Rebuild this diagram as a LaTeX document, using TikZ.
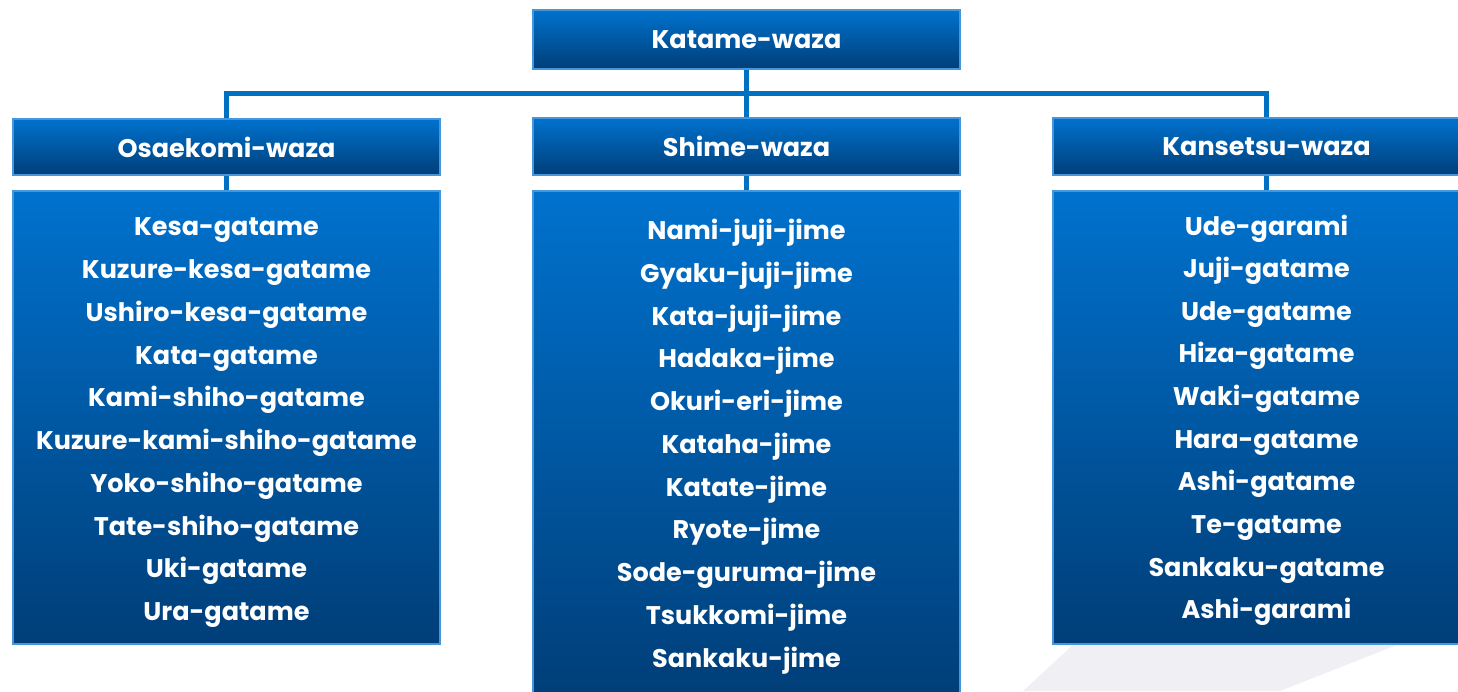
\documentclass[tikz,border=0pt]{standalone}
\usepackage{fontspec}
\setmainfont{Poppins}
\definecolor{boxtop}{RGB}{0,114,206}
\definecolor{boxbot}{RGB}{0,62,120}
\definecolor{boxedge}{RGB}{70,150,220}
\definecolor{connblue}{RGB}{0,112,192}
\definecolor{shadowgray}{RGB}{240,240,244}
\tikzset{
  blbox/.style={draw=boxedge, line width=1.5pt, top color=boxtop, bottom color=boxbot,
    minimum width=427pt, inner sep=0pt, text=white,
    font=\bfseries\fontsize{25.5}{30}\selectfont},
  item/.style={anchor=base, inner sep=0pt, text=white,
    font=\bfseries\fontsize{25.5}{30}\selectfont},
  conn/.style={draw=connblue, line width=5pt}
}
\begin{document}
\begin{tikzpicture}[x=1pt,y=-1pt]
\useasboundingbox (0,0) rectangle (1458,691);
\fill[shadowgray] (1089,630) -- (1435,630) -- (1280,691) -- (1023,691) -- cycle;
\coordinate (bus) at (746.5,93.5);
\node[blbox, minimum height=59pt] (top) at (746.5,39.5) {Katame-waza};
\node[blbox, minimum height=56pt] (h1) at (226.5,147) {Osaekomi-waza};
\node[blbox, minimum height=57pt] (h2) at (746.5,146.5) {Shime-waza};
\node[blbox, minimum height=57pt] (h3) at (1266.5,146.5) {Kansetsu-waza};
\node[blbox, minimum height=453pt] (l1) at (226.5,417.5) {};
\node[blbox, minimum height=507pt] (l2) at (746.5,444.5) {};
\node[blbox, minimum height=453pt] (l3) at (1266.5,417.5) {};
\foreach \t [count=\i from 0] in {Kesa-gatame,Kuzure-kesa-gatame,Ushiro-kesa-gatame,Kata-gatame,Kami-shiho-gatame,Kuzure-kami-shiho-gatame,Yoko-shiho-gatame,Tate-shiho-gatame,Uki-gatame,Ura-gatame}
  \node[item] (a\i) at (226.5,235.8+42.75*\i) {\t};
\foreach \t [count=\i from 0] in {Nami-juji-jime,Gyaku-juji-jime,Kata-juji-jime,Hadaka-jime,Okuri-eri-jime,Kataha-jime,Katate-jime,Ryote-jime,Sode-guruma-jime,Tsukkomi-jime,Sankaku-jime}
  \node[item] (b\i) at (746.5,239.5+42.75*\i) {\t};
\foreach \t [count=\i from 0] in {Ude-garami,Juji-gatame,Ude-gatame,Hiza-gatame,Waki-gatame,Hara-gatame,Ashi-gatame,Te-gatame,Sankaku-gatame,Ashi-garami}
  \node[item] (c\i) at (1266.5,235+42.65*\i) {\t};
\draw[conn] (top.south) -- (h2.north);
\draw[conn] (h1.north) |- (bus) -| (h3.north);
\draw[conn] (h1.south) -- (l1.north);
\draw[conn] (h2.south) -- (l2.north);
\draw[conn] (h3.south) -- (l3.north);
\end{tikzpicture}
\end{document}
